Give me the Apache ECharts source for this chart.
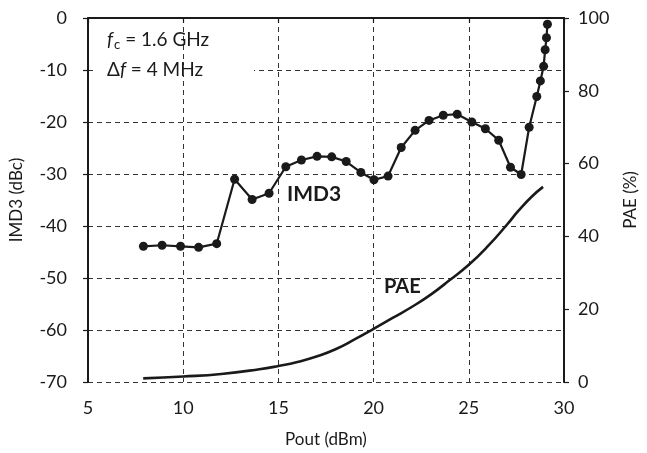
<!DOCTYPE html>
<html>
<head>
<meta charset="utf-8">
<script src="https://cdn.jsdelivr.net/npm/echarts@6/dist/echarts.min.js"></script>
<style>html,body{margin:0;padding:0;background:#fff;overflow:hidden;}#c{width:647px;height:453px;}</style>
</head>
<body>
<div id="c"></div>
<script>
var pout = [7.91,8.89,9.86,10.81,11.76,12.70,13.62,14.51,15.39,16.21,17.03,17.80,18.56,19.33,20.02,20.76,21.45,22.18,22.91,23.66,24.39,25.16,25.87,26.57,27.19,27.75,28.17,28.57,28.76,28.93,29.01,29.08,29.13];
var imd3 = [-43.9,-43.7,-43.9,-44.1,-43.4,-31.0,-34.9,-33.7,-28.6,-27.3,-26.6,-26.7,-27.6,-29.7,-31.1,-30.4,-24.9,-21.6,-19.7,-18.7,-18.5,-20.0,-21.3,-23.5,-28.7,-30.1,-21.0,-15.1,-12.1,-9.3,-6.1,-3.8,-1.2];
var paeX = [7.9,10,12,14,15,16,17,18,19,20,21,22,23,24,25,26,27,27.6,28.3,28.9];
var paeY = [1.0,1.5,2.2,3.5,4.4,5.5,7.0,9.0,11.7,14.6,17.6,20.6,24.0,28.0,32.2,37.3,43.2,47.0,50.9,53.6];
var xTicks = [5,10,15,20,25,30];
var leftTicks = [-70,-60,-50,-40,-30,-20,-10,0];
var rightTicks = [0,20,40,60,80,100];

var FONT = 'Lato';
var INK = '#1a1a1a';
var chart = echarts.init(document.getElementById('c'), null, {renderer:'canvas'});
function pairs(a,b){return a.map(function(v,i){return [v,b[i]];});}
chart.setOption({
  animation:false,
  textStyle:{fontFamily:FONT},
  grid:{left:84,right:74,top:18,bottom:70,containLabel:false},
  xAxis:{
    type:'value',min:xTicks[0],max:xTicks[xTicks.length-1],interval:5,
    name:'Pout (dBm)',nameLocation:'middle',nameGap:49,
    nameTextStyle:{fontFamily:FONT,fontSize:17,color:INK},
    axisLine:{lineStyle:{color:INK,width:2}},
    axisTick:{show:true,length:5,lineStyle:{color:INK,width:1.2}},
    axisLabel:{fontFamily:FONT,fontSize:18,color:INK,margin:17},
    splitLine:{show:true,lineStyle:{color:'#333',type:[5,4],width:1}}
  },
  yAxis:[{
    type:'value',min:leftTicks[0],max:leftTicks[leftTicks.length-1],interval:10,
    name:'IMD3 (dBc)',nameLocation:'middle',nameGap:63,nameRotate:90,
    nameTextStyle:{fontFamily:FONT,fontSize:17,color:INK},
    axisLine:{show:true,lineStyle:{color:INK,width:2}},
    axisTick:{show:true,length:5,lineStyle:{color:INK,width:1.2}},
    axisLabel:{fontFamily:FONT,fontSize:18,color:INK,margin:21},
    splitLine:{show:true,lineStyle:{color:'#333',type:[5,4],width:1}}
  },{
    type:'value',min:rightTicks[0],max:rightTicks[rightTicks.length-1],interval:20,position:'right',
    name:'PAE (%)',nameLocation:'middle',nameGap:58,nameRotate:90,
    nameTextStyle:{fontFamily:FONT,fontSize:17,color:INK},
    axisLine:{show:true,lineStyle:{color:INK,width:2}},
    axisTick:{show:true,length:5,lineStyle:{color:INK,width:1.2}},
    axisLabel:{fontFamily:FONT,fontSize:18,color:INK,margin:14},
    splitLine:{show:false}
  }],
  series:[{
    type:'line',name:'IMD3',yAxisIndex:0,data:pairs(pout,imd3),
    symbol:'circle',symbolSize:9,showSymbol:true,
    lineStyle:{color:INK,width:2.2},itemStyle:{color:INK},z:3
  },{
    type:'line',name:'PAE',yAxisIndex:1,data:pairs(paeX,paeY),
    symbol:'none',smooth:0.5,
    lineStyle:{color:INK,width:2.6},z:2
  }],
  graphic:[
    {type:'rect',shape:{x:97,y:65,width:157,height:10},style:{fill:'#fff'},z:1},
    {type:'text',left:107,top:30,z:2,style:{
      text:'{i|f}{s|c}{n| = 1.6 GHz}',
      rich:{i:{fontFamily:FONT,fontSize:19,fontStyle:'italic',fill:INK},
            s:{fontFamily:FONT,fontSize:13,fill:INK,padding:[10,0,0,1]},
            n:{fontFamily:FONT,fontSize:19,fill:INK}}}},
    {type:'text',left:107,top:60,z:2,style:{
      text:'{n|Δ}{i|f}{n| = 4 MHz}',
      rich:{i:{fontFamily:FONT,fontSize:19,fontStyle:'italic',fill:INK},
            n:{fontFamily:FONT,fontSize:19,fill:INK}}}},
    {type:'text',left:287,top:184,style:{text:'IMD3',fontFamily:FONT,fontSize:21,fontWeight:'bold',fill:INK}},
    {type:'text',left:384,top:277,style:{text:'PAE',fontFamily:FONT,fontSize:20,fontWeight:'bold',fill:INK}}
  ]
});
</script>
</body>
</html>
